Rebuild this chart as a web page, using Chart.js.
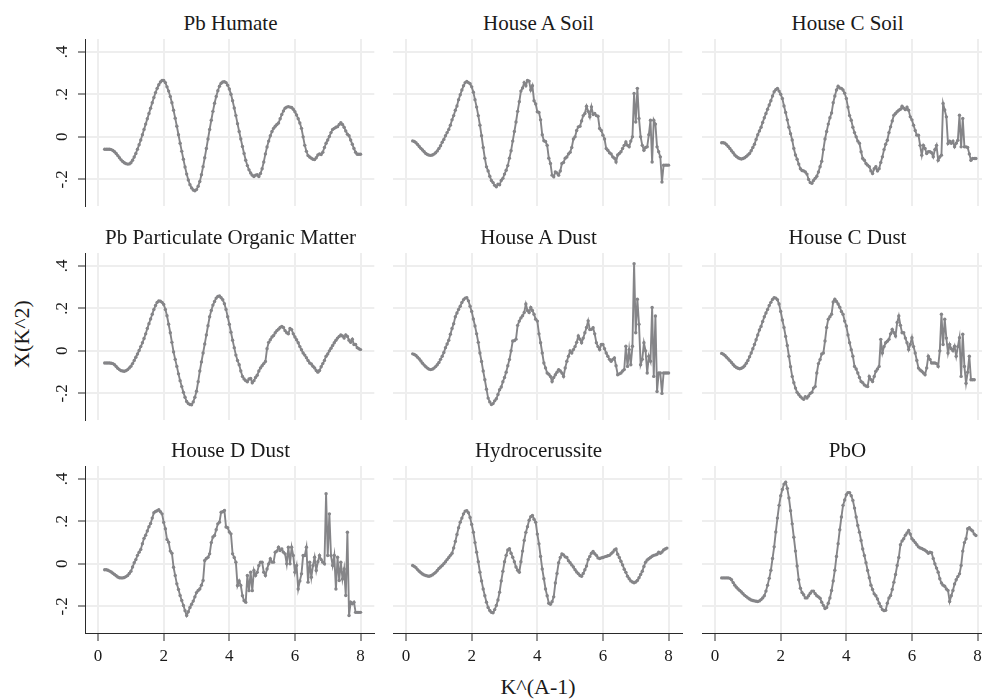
<!DOCTYPE html>
<html>
<head>
<meta charset="utf-8">
<script src="https://cdn.jsdelivr.net/npm/chart.js@4.4.1/dist/chart.umd.min.js"></script>
<style>
  html, body { margin: 0; padding: 0; background: #fff; width: 982px; height: 699px; overflow: hidden; }
  body { position: relative; font-family: "Liberation Serif", "Times New Roman", serif; color: #1a1a1a; }
  canvas { position: absolute; }
  .ptitle { position: absolute; width: 291px; text-align: center; font-size: 21px; line-height: 24px; white-space: nowrap; }
  .atitle { position: absolute; font-size: 22px; line-height: 26px; white-space: nowrap; transform: translate(-50%, -50%); }
</style>
</head>
<body>
<div class="atitle" style="left:538px; top:687px;">K^(A-1)</div>
<div class="atitle" style="left:22px; top:334px; transform: translate(-50%, -50%) rotate(-90deg);">X(K^2)</div>
<script>
// k grid, 0.2 .. 8.0 step 0.05
const K = [0.20,0.25,0.30,0.35,0.40,0.45,0.50,0.55,0.60,0.65,0.70,0.75,0.80,0.85,0.90,0.95,1.00,1.05,1.10,1.15,
  1.20,1.25,1.30,1.35,1.40,1.45,1.50,1.55,1.60,1.65,1.70,1.75,1.80,1.85,1.90,1.95,2.00,2.05,2.10,2.15,
  2.20,2.25,2.30,2.35,2.40,2.45,2.50,2.55,2.60,2.65,2.70,2.75,2.80,2.85,2.90,2.95,3.00,3.05,3.10,3.15,
  3.20,3.25,3.30,3.35,3.40,3.45,3.50,3.55,3.60,3.65,3.70,3.75,3.80,3.85,3.90,3.95,4.00,4.05,4.10,4.15,
  4.20,4.25,4.30,4.35,4.40,4.45,4.50,4.55,4.60,4.65,4.70,4.75,4.80,4.85,4.90,4.95,5.00,5.05,5.10,5.15,
  5.20,5.25,5.30,5.35,5.40,5.45,5.50,5.55,5.60,5.65,5.70,5.75,5.80,5.85,5.90,5.95,6.00,6.05,6.10,6.15,
  6.20,6.25,6.30,6.35,6.40,6.45,6.50,6.55,6.60,6.65,6.70,6.75,6.80,6.85,6.90,6.95,7.00,7.05,7.10,7.15,
  7.20,7.25,7.30,7.35,7.40,7.45,7.50,7.55,7.60,7.65,7.70,7.75,7.80,7.85,7.90,7.95,8.00];

const pbHumate = [-0.058,-0.058,-0.058,-0.058,-0.060,-0.064,-0.070,-0.078,-0.088,-0.098,-0.108,-0.116,-0.122,-0.126,-0.128,-0.127,-0.122,-0.110,-0.095,-0.078,
  -0.058,-0.037,-0.015,0.010,0.035,0.060,0.085,0.110,0.135,0.160,0.185,0.208,0.228,0.245,0.258,0.265,0.265,0.255,0.235,0.215,
  0.190,0.160,0.125,0.088,0.050,0.010,-0.030,-0.068,-0.105,-0.142,-0.175,-0.203,-0.225,-0.240,-0.250,-0.253,-0.248,-0.232,-0.210,-0.178,
  -0.140,-0.098,-0.055,-0.010,0.035,0.078,0.120,0.158,0.190,0.217,0.238,0.252,0.258,0.259,0.255,0.243,0.225,0.200,0.170,0.136,
  0.100,0.062,0.025,-0.010,-0.045,-0.078,-0.110,-0.135,-0.155,-0.170,-0.180,-0.186,-0.180,-0.178,-0.186,-0.172,-0.150,-0.118,-0.080,-0.048,
  -0.020,0.005,0.025,0.040,0.050,0.058,0.065,0.085,0.105,0.122,0.135,0.140,0.142,0.140,0.138,0.130,0.118,0.103,0.085,0.065,
  0.040,0.000,-0.040,-0.068,-0.088,-0.095,-0.100,-0.105,-0.107,-0.098,-0.085,-0.080,-0.083,-0.072,-0.050,-0.030,-0.015,0.002,0.020,0.035,
  0.040,0.045,0.048,0.058,0.066,0.058,0.045,0.028,0.012,0.005,-0.015,-0.035,-0.055,-0.072,-0.082,-0.082,-0.082];

const houseASoil = [-0.019,-0.022,-0.028,-0.036,-0.045,-0.054,-0.062,-0.070,-0.078,-0.083,-0.086,-0.087,-0.085,-0.081,-0.075,-0.066,-0.055,-0.042,-0.025,-0.012,
  0.005,0.020,0.035,0.055,0.080,0.100,0.125,0.145,0.175,0.198,0.220,0.240,0.255,0.260,0.255,0.250,0.235,0.210,0.175,0.140,
  0.100,0.055,0.005,-0.050,-0.100,-0.141,-0.160,-0.185,-0.205,-0.215,-0.228,-0.235,-0.222,-0.225,-0.205,-0.195,-0.175,-0.157,-0.135,-0.100,
  -0.065,-0.020,0.025,0.070,0.120,0.165,0.215,0.230,0.255,0.240,0.265,0.262,0.220,0.240,0.170,0.155,0.118,0.115,0.080,0.010,
  -0.018,-0.022,-0.040,-0.100,-0.125,-0.180,-0.188,-0.165,-0.170,-0.180,-0.160,-0.125,-0.120,-0.100,-0.095,-0.080,-0.072,-0.050,-0.010,0.000,
  0.030,0.047,0.050,0.075,0.100,0.110,0.144,0.120,0.094,0.141,0.105,0.110,0.100,0.097,0.039,0.030,0.008,-0.010,-0.055,-0.063,
  -0.075,-0.080,-0.094,-0.100,-0.118,-0.085,-0.078,-0.070,-0.055,-0.040,-0.024,-0.040,-0.047,-0.020,0.000,0.204,0.070,0.228,0.086,0.000,
  -0.040,-0.063,-0.050,-0.047,0.010,0.078,-0.118,0.078,0.060,-0.047,-0.070,-0.094,-0.212,-0.133,-0.133,-0.133,-0.133];

const houseCSoil = [-0.028,-0.028,-0.030,-0.037,-0.045,-0.055,-0.065,-0.075,-0.085,-0.092,-0.098,-0.102,-0.104,-0.102,-0.098,-0.092,-0.085,-0.078,-0.065,-0.050,
  -0.035,-0.012,0.010,0.028,0.045,0.068,0.090,0.110,0.130,0.150,0.170,0.192,0.212,0.222,0.228,0.215,0.200,0.180,0.145,0.115,
  0.080,0.045,0.015,-0.015,-0.055,-0.085,-0.105,-0.128,-0.150,-0.158,-0.160,-0.165,-0.175,-0.200,-0.215,-0.218,-0.205,-0.195,-0.185,-0.165,
  -0.140,-0.115,-0.060,-0.010,0.025,0.060,0.090,0.112,0.160,0.192,0.220,0.238,0.230,0.228,0.220,0.205,0.180,0.140,0.100,0.078,
  0.045,0.020,0.000,-0.020,-0.030,-0.070,-0.102,-0.110,-0.125,-0.133,-0.140,-0.160,-0.172,-0.150,-0.140,-0.160,-0.150,-0.120,-0.094,-0.060,
  -0.035,-0.016,0.020,0.047,0.075,0.102,0.110,0.118,0.125,0.130,0.144,0.135,0.128,0.140,0.125,0.094,0.080,0.055,0.030,0.008,
  0.008,-0.040,-0.086,-0.040,-0.055,-0.078,-0.070,-0.070,-0.075,-0.094,-0.060,-0.040,-0.110,-0.095,-0.086,0.157,0.126,0.094,-0.031,-0.020,
  -0.030,-0.020,-0.047,-0.030,-0.016,0.102,-0.047,0.086,-0.047,-0.047,-0.050,-0.080,-0.110,-0.102,-0.102,-0.102,null];

const pbPOM = [-0.057,-0.057,-0.057,-0.057,-0.058,-0.060,-0.065,-0.073,-0.082,-0.088,-0.093,-0.095,-0.096,-0.093,-0.088,-0.080,-0.072,-0.060,-0.045,-0.030,
  -0.015,0.002,0.020,0.038,0.058,0.080,0.105,0.128,0.150,0.172,0.195,0.213,0.228,0.235,0.233,0.228,0.218,0.195,0.165,0.125,
  0.085,0.040,-0.005,-0.040,-0.073,-0.108,-0.140,-0.168,-0.195,-0.218,-0.238,-0.248,-0.252,-0.253,-0.240,-0.218,-0.190,-0.145,-0.095,-0.052,
  -0.010,0.032,0.075,0.118,0.160,0.190,0.215,0.232,0.248,0.256,0.258,0.250,0.240,0.222,0.195,0.160,0.125,0.088,0.050,0.015,
  -0.020,-0.045,-0.065,-0.095,-0.120,-0.132,-0.140,-0.145,-0.132,-0.130,-0.150,-0.140,-0.125,-0.115,-0.095,-0.080,-0.070,-0.060,-0.050,0.010,
  0.040,0.052,0.065,0.072,0.085,0.095,0.102,0.110,0.115,0.110,0.095,0.085,0.080,0.105,0.100,0.080,0.065,0.052,0.038,0.020,
  0.005,-0.010,-0.020,-0.032,-0.045,-0.057,-0.062,-0.072,-0.080,-0.092,-0.100,-0.092,-0.075,-0.060,-0.045,-0.025,-0.015,0.000,0.012,0.025,
  0.038,0.050,0.060,0.068,0.075,0.070,0.060,0.075,0.068,0.050,0.040,0.055,0.030,0.030,0.015,0.010,0.006];

const houseADust = [-0.014,-0.017,-0.022,-0.030,-0.038,-0.048,-0.058,-0.067,-0.075,-0.081,-0.086,-0.088,-0.086,-0.081,-0.074,-0.065,-0.055,-0.040,-0.025,-0.008,
  0.015,0.032,0.050,0.078,0.105,0.128,0.160,0.178,0.195,0.210,0.227,0.240,0.248,0.250,0.235,0.210,0.185,0.150,0.117,0.080,
  0.040,-0.010,-0.050,-0.095,-0.136,-0.180,-0.222,-0.240,-0.252,-0.248,-0.235,-0.225,-0.205,-0.183,-0.170,-0.145,-0.125,-0.100,-0.070,-0.041,
  0.000,0.046,0.048,0.055,0.120,0.140,0.155,0.165,0.180,0.220,0.190,0.180,0.204,0.190,0.172,0.149,0.140,0.080,0.038,-0.010,
  -0.057,-0.080,-0.104,-0.110,-0.120,-0.144,-0.125,-0.112,-0.100,-0.088,-0.095,-0.104,-0.120,-0.080,-0.049,-0.025,0.000,-0.010,0.006,0.020,
  0.040,0.070,0.055,0.038,0.060,0.085,0.110,0.141,0.100,0.101,0.109,0.080,0.038,0.020,0.006,0.030,0.030,0.010,-0.010,-0.025,
  -0.040,-0.049,-0.040,-0.033,-0.070,-0.112,-0.108,-0.104,-0.095,-0.088,0.022,-0.073,0.006,-0.065,0.022,0.410,0.085,0.243,0.125,-0.065,
  -0.040,0.038,0.000,-0.104,-0.025,-0.049,0.204,-0.120,0.164,-0.191,-0.104,-0.104,-0.200,-0.104,-0.104,-0.104,-0.104];

const houseCDust = [-0.012,-0.016,-0.022,-0.030,-0.038,-0.046,-0.055,-0.064,-0.072,-0.078,-0.082,-0.084,-0.082,-0.077,-0.070,-0.058,-0.045,-0.028,-0.010,0.010,
  0.030,0.052,0.075,0.098,0.115,0.138,0.160,0.178,0.195,0.213,0.228,0.242,0.250,0.248,0.240,0.220,0.185,0.145,0.110,0.068,
  0.025,-0.025,-0.075,-0.120,-0.150,-0.175,-0.195,-0.205,-0.215,-0.222,-0.228,-0.215,-0.222,-0.212,-0.200,-0.195,-0.175,-0.168,-0.104,-0.060,
  -0.041,-0.015,-0.010,0.046,0.110,0.149,0.160,0.172,0.230,0.243,0.232,0.220,0.205,0.185,0.172,0.140,0.117,0.075,0.038,0.005,
  -0.025,-0.073,-0.085,-0.104,-0.125,-0.144,-0.150,-0.160,-0.165,-0.168,-0.120,-0.135,-0.144,-0.120,-0.096,-0.085,-0.073,0.054,-0.010,0.020,
  0.038,0.045,0.054,0.080,0.101,0.085,0.070,0.133,0.164,0.120,0.085,0.085,0.060,0.038,0.006,0.030,0.062,0.020,-0.010,-0.045,
  -0.081,-0.090,-0.096,-0.104,-0.112,-0.080,-0.025,-0.040,-0.057,-0.057,-0.057,-0.060,-0.073,0.000,0.172,0.030,0.149,0.060,-0.010,0.030,
  0.010,0.000,0.022,-0.025,0.020,0.062,-0.120,0.078,-0.073,-0.152,-0.100,-0.025,-0.136,-0.136,-0.136,null,null];

const houseDDust = [-0.028,-0.028,-0.030,-0.034,-0.038,-0.044,-0.050,-0.056,-0.062,-0.065,-0.066,-0.066,-0.064,-0.060,-0.055,-0.045,-0.035,-0.015,0.005,0.020,
  0.040,0.055,0.068,0.095,0.120,0.135,0.155,0.175,0.190,0.215,0.240,0.246,0.250,0.254,0.245,0.235,0.195,0.165,0.115,0.102,
  0.060,0.050,-0.016,-0.055,-0.094,-0.120,-0.149,-0.172,-0.196,-0.220,-0.243,-0.225,-0.205,-0.190,-0.175,-0.155,-0.135,-0.125,-0.118,-0.100,
  -0.078,0.016,0.025,0.031,0.047,0.100,0.126,0.133,0.160,0.188,0.196,0.243,0.245,0.251,0.173,0.170,0.150,0.141,0.047,0.030,
  0.008,-0.102,-0.080,-0.102,-0.150,-0.173,-0.180,-0.055,-0.126,-0.039,-0.126,-0.031,-0.055,-0.040,-0.008,0.008,0.008,-0.039,-0.055,-0.024,
  0.000,0.024,0.008,0.008,0.055,0.060,0.078,0.063,0.070,0.055,0.047,0.000,0.078,0.000,0.078,0.039,-0.039,-0.008,-0.118,-0.080,
  -0.047,0.039,0.039,0.078,-0.086,0.008,-0.063,-0.008,0.031,-0.031,0.010,0.039,0.020,0.008,0.000,0.330,0.039,0.235,0.039,-0.008,
  0.039,-0.118,0.031,-0.078,0.008,-0.071,-0.024,-0.149,0.149,-0.243,-0.180,-0.188,-0.180,-0.228,-0.228,-0.228,-0.228];

const hydrocerussite = [-0.008,-0.012,-0.018,-0.027,-0.035,-0.042,-0.048,-0.052,-0.055,-0.057,-0.058,-0.056,-0.052,-0.046,-0.040,-0.031,-0.022,-0.015,-0.008,0.001,
  0.010,0.020,0.030,0.040,0.050,0.075,0.105,0.138,0.170,0.196,0.215,0.235,0.248,0.250,0.240,0.218,0.185,0.149,0.100,0.055,
  0.010,-0.039,-0.080,-0.118,-0.150,-0.180,-0.205,-0.219,-0.228,-0.230,-0.215,-0.196,-0.170,-0.133,-0.080,-0.035,0.010,0.040,0.065,0.071,
  0.050,0.031,0.010,-0.015,-0.030,-0.039,0.010,0.060,0.110,0.148,0.175,0.205,0.222,0.227,0.210,0.196,0.140,0.094,0.035,-0.024,
  -0.070,-0.118,-0.150,-0.185,-0.190,-0.178,-0.155,-0.090,-0.045,0.005,0.030,0.047,0.042,0.033,0.030,0.015,0.005,-0.005,-0.015,-0.028,
  -0.038,-0.046,-0.055,-0.058,-0.045,-0.028,-0.010,0.020,0.035,0.050,0.058,0.048,0.040,0.028,0.025,0.028,0.030,0.033,0.035,0.038,
  0.040,0.048,0.055,0.065,0.070,0.045,0.030,0.012,-0.005,-0.025,-0.040,-0.058,-0.070,-0.080,-0.085,-0.089,-0.085,-0.078,-0.065,-0.050,
  -0.035,-0.012,0.008,0.018,0.024,0.030,0.036,0.040,0.042,0.045,0.055,0.050,0.056,0.065,0.070,0.074,null];

const pbO = [-0.066,-0.066,-0.066,-0.066,-0.066,-0.068,-0.075,-0.088,-0.100,-0.110,-0.118,-0.125,-0.132,-0.140,-0.148,-0.154,-0.160,-0.165,-0.170,-0.172,
  -0.174,-0.176,-0.177,-0.174,-0.168,-0.160,-0.150,-0.128,-0.100,-0.068,-0.030,0.025,0.080,0.150,0.215,0.275,0.320,0.350,0.375,0.384,
  0.355,0.310,0.250,0.188,0.125,0.060,-0.010,-0.075,-0.115,-0.135,-0.145,-0.160,-0.160,-0.150,-0.138,-0.128,-0.128,-0.140,-0.150,-0.155,
  -0.162,-0.180,-0.195,-0.210,-0.205,-0.185,-0.160,-0.125,-0.080,-0.030,0.035,0.095,0.160,0.220,0.275,0.300,0.325,0.335,0.335,0.320,
  0.298,0.262,0.220,0.180,0.149,0.110,0.070,0.039,0.005,-0.031,-0.065,-0.100,-0.120,-0.141,-0.150,-0.165,-0.185,-0.200,-0.215,-0.220,
  -0.218,-0.185,-0.160,-0.149,-0.120,-0.086,-0.050,-0.008,0.030,0.090,0.108,0.118,0.135,0.145,0.157,0.140,0.118,0.110,0.100,0.090,
  0.080,0.075,0.072,0.068,0.064,0.058,0.050,0.055,0.052,0.025,0.000,-0.020,-0.039,-0.070,-0.090,-0.100,-0.105,-0.118,-0.125,-0.177,
  -0.150,-0.125,-0.095,-0.075,-0.060,-0.047,-0.008,0.060,0.100,0.118,0.165,0.170,0.160,0.155,0.140,0.133,null];

const PANEL_TITLES = ['Pb Humate', 'House A Soil', 'House C Soil',
  'Pb Particulate Organic Matter', 'House A Dust', 'House C Dust',
  'House D Dust', 'Hydrocerussite', 'PbO'];
const PANEL_DATA = [pbHumate, houseASoil, houseCSoil, pbPOM, houseADust, houseCDust, houseDDust, hydrocerussite, pbO];

const X_TICKS = [0, 2, 4, 6, 8];
const Y_TICKS = [-0.2, 0, 0.2, 0.4];
const Y_TICK_LABELS = ['-.2', '0', '.2', '.4'];

const COL_LEFT = [85, 393, 702];
const ROW_TOP = [39, 253, 466];
const PLOT_W = 291, PLOT_H = 167;
const PAD_L = 60, PAD_T = 35, PAD_B = 35;

const LINE = '#858588';
const GRID = '#eeeeee';
const AXIS = '#2a2a2a';
const TEXT = '#1a1a1a';
const FONT = '"Liberation Serif", "Times New Roman", serif';

PANEL_DATA.forEach((vals, idx) => {
  const r = Math.floor(idx / 3), c = idx % 3;
  const isLeft = c === 0, isBottom = r === 2;

  const title = document.createElement('div');
  title.className = 'ptitle';
  title.textContent = PANEL_TITLES[idx];
  title.style.left = COL_LEFT[c] + 'px';
  title.style.top = (ROW_TOP[r] - 28) + 'px';
  document.body.appendChild(title);

  const cv = document.createElement('canvas');
  cv.width = PAD_L + PLOT_W;
  cv.height = PAD_T + PLOT_H + PAD_B;
  cv.style.left = (COL_LEFT[c] - PAD_L) + 'px';
  cv.style.top = (ROW_TOP[r] - PAD_T) + 'px';
  document.body.appendChild(cv);

  new Chart(cv, {
    type: 'line',
    data: {
      datasets: [{
        data: K.map((k, i) => ({ x: k, y: vals[i] })),
        borderColor: LINE,
        backgroundColor: LINE,
        borderWidth: 1.9,
        pointRadius: 1.7,
        pointBorderWidth: 0,
        pointHoverRadius: 0,
        tension: 0
      }]
    },
    options: {
      responsive: false,
      animation: false,
      events: [],
      layout: { padding: { top: PAD_T, left: 0, right: 0, bottom: 0 } },
      plugins: { legend: { display: false }, tooltip: { enabled: false } },
      scales: {
        x: {
          type: 'linear', min: -0.4, max: 8.42,
          afterBuildTicks: s => { s.ticks = X_TICKS.map(v => ({ value: v })); },
          afterFit: s => { s.height = PAD_B; },
          border: { display: isBottom, color: AXIS, width: 1 },
          grid: { color: GRID, lineWidth: 2, drawTicks: isBottom, tickLength: 8, tickColor: AXIS, tickWidth: 1 },
          ticks: { display: isBottom, color: TEXT, font: { family: FONT, size: 17 }, padding: 5, maxRotation: 0,
                   callback: v => String(v) }
        },
        y: {
          type: 'linear', min: -0.325, max: 0.46,
          afterBuildTicks: s => { s.ticks = Y_TICKS.map(v => ({ value: v })); },
          afterFit: s => { s.width = PAD_L; },
          border: { display: isLeft, color: AXIS, width: 1 },
          grid: { color: GRID, lineWidth: 2, drawTicks: isLeft, tickLength: 7, tickColor: AXIS, tickWidth: 1 },
          ticks: { display: isLeft, color: TEXT, font: { family: FONT, size: 17 }, padding: 6,
                   minRotation: 90, maxRotation: 90, crossAlign: 'center',
                   callback: (v, i) => Y_TICK_LABELS[i] }
        }
      }
    }
  });
});
</script>
</body>
</html>
